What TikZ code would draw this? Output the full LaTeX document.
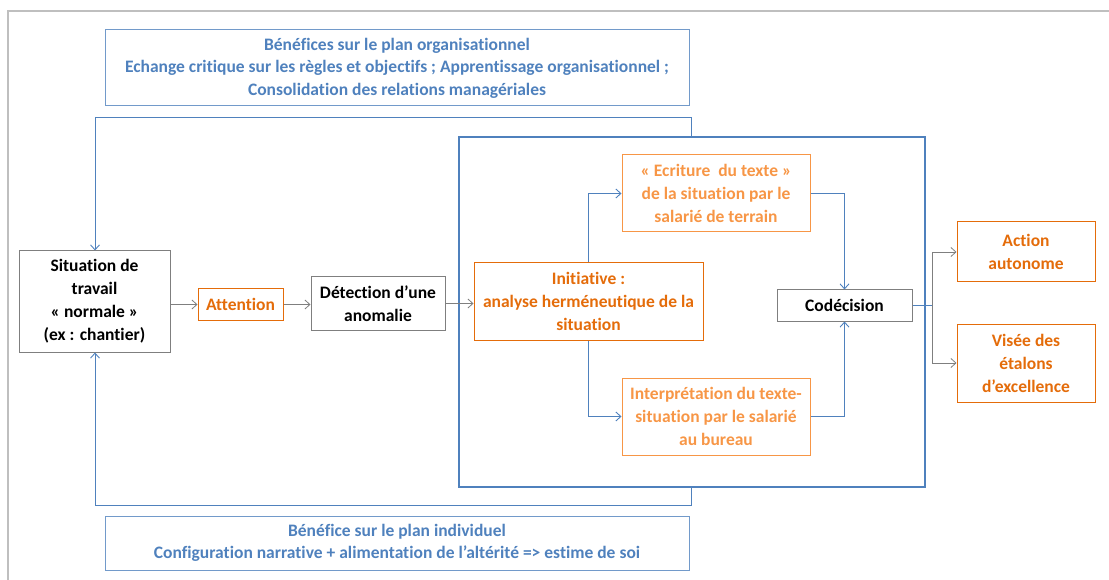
\documentclass[tikz,border=0pt]{standalone}
\usepackage{fontspec}
\setmainfont{Carlito}[Ligatures=NoCommon]
\usetikzlibrary{arrows.meta}
\definecolor{dorange}{HTML}{E46C0A}
\definecolor{lorange}{HTML}{F79646}
\definecolor{bblue}{HTML}{4F81BD}
\definecolor{tblue}{HTML}{4F81BD}
\definecolor{ggray}{HTML}{7F7F7F}
\definecolor{fgray}{HTML}{BFBFBF}
\tikzset{
  base/.style={draw, rectangle, line width=1pt, align=center, inner sep=0pt,
    font=\fontsize{17.5}{23}\selectfont\bfseries},
  graybox/.style={base, draw=ggray, text=black},
  obox/.style={base, draw=dorange, text=dorange},
  lbox/.style={base, draw=lorange, text=lorange},
  bbox/.style={base, draw=bblue!80, text=tblue, font=\fontsize{17.5}{22.5}\selectfont\bfseries},
  garrow/.style={draw=ggray, line width=0.8pt, -{Straight Barb[length=5pt,width=9pt]}},
  barrow/.style={draw=bblue, line width=0.9pt, -{Straight Barb[length=5pt,width=9pt]}},
  bline/.style={draw=bblue, line width=0.9pt},
  gline/.style={draw=ggray, line width=0.8pt},
}
\begin{document}
\begin{tikzpicture}[x=1pt,y=-1pt]
\useasboundingbox (0,0) rectangle (1109,580);
% outer frame
\draw[fgray, line width=1.5pt] (8,580) -- (8,11) -- (1109,11);
% boxes
\node[bbox, minimum width=584pt, minimum height=76pt] (org) at (397,68)
  {Bénéfices sur le plan organisationnel\\Echange critique sur les règles et objectifs ; Apprentissage organisationnel ;\\Consolidation des relations managériales};
\node[bbox, minimum width=584pt, minimum height=54pt] (ind) at (397,543)
  {Bénéfice sur le plan individuel\\Configuration narrative + alimentation de l’altérité => estime de soi};
\node[draw=bblue, line width=2.5pt, minimum width=466pt, minimum height=350pt, inner sep=0pt] (big) at (692,312) {};
\node[graybox, minimum width=151pt, minimum height=101pt] (sit) at (94.5,301.5)
  {Situation de\\travail\\« normale »\\(ex : chantier)};
\node[obox, minimum width=85pt, minimum height=31pt] (att) at (240.5,304.5) {Attention};
\node[graybox, minimum width=134pt, minimum height=53pt] (det) at (378,303.5)
  {Détection d’une\\anomalie};
\node[obox, minimum width=229pt, minimum height=77pt] (ini) at (588.5,301.5)
  {Initiative :\\analyse herméneutique de la\\situation};
\node[lbox, minimum width=188pt, minimum height=77pt] (ecr) at (716,193.5)
  {« Ecriture~~du texte »\\de la situation par le\\salarié de terrain};
\node[lbox, minimum width=188pt, minimum height=77pt] (int) at (716,416.5)
  {Interprétation du texte-\\situation par le salarié\\au bureau};
\node[graybox, minimum width=135pt, minimum height=31pt] (cod) at (844.5,305.5) {Codécision};
\node[obox, minimum width=138pt, minimum height=60pt] (act) at (1026,252) {Action\\autonome};
\node[obox, minimum width=138pt, minimum height=78pt] (vis) at (1026,363) {Visée des\\étalons\\d’excellence};
% coordinates
\coordinate (tl) at (95,117);
\coordinate (tr) at (691,117);
\coordinate (bl) at (95,505);
\coordinate (br) at (691,505);
\coordinate (split) at (932,305.5);
% feedback loops
\draw[bline] (big.north -| tr) -- (tr) -- (tl);
\draw[barrow] (tl) -- (sit.north -| tl);
\draw[bline] (big.south -| br) -- (br) -- (bl);
\draw[barrow] (bl) -- (sit.south -| bl);
% main chain
\draw[garrow] (sit.east |- att) -- (att.west);
\draw[garrow] (att.east) -- (det.west |- att);
\draw[garrow] (det.east) -- (ini.west |- det);
% inside
\draw[barrow] (ini.north -| ini) |- (ecr.west);
\draw[barrow] (ini.south -| ini) |- (int.west);
\draw[barrow] (ecr.east) -| (cod.north);
\draw[barrow] (int.east) -| (cod.south);
% outputs
\draw[bline] (cod.east) -- (split);
\draw[garrow] (split) |- (act.west);
\draw[garrow] (split) |- (vis.west);
\end{tikzpicture}
\end{document}
